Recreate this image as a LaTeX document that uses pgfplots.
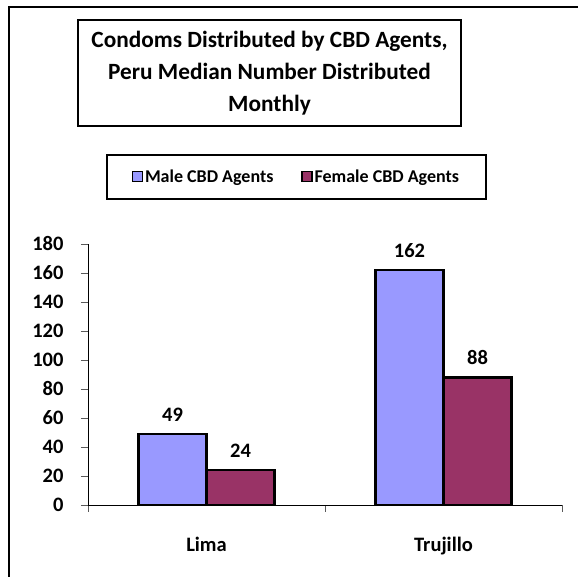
\documentclass[border=0pt]{standalone}
\usepackage{pgfplots}
\pgfplotsset{compat=1.18}
\usepackage{fontspec}
\setmainfont{Carlito}
\definecolor{maleC}{HTML}{9999FF}
\definecolor{femaleC}{HTML}{993366}
\begin{document}
\begin{tikzpicture}[x=1pt,y=1pt]
\useasboundingbox (0,0) rectangle (578,577);
\draw[line width=2pt] (9,-5) -- (9,570) -- (585,570);
\node[draw, line width=1.6pt, minimum width=383pt, minimum height=106pt, align=center,
      font=\fontsize{23.3}{32}\selectfont\bfseries, inner sep=0pt] at (269.5,504)
  {Condoms Distributed by CBD Agents,\\Peru Median Number Distributed\\Monthly};
\begin{axis}[
  at={(88pt,72pt)}, anchor=south west,
  scale only axis, width=474pt, height=261pt,
  xmin=-0.5, xmax=1.5, ymin=0, ymax=180,
  axis lines*=left,
  axis line style={line width=0.8pt},
  ybar=0pt, bar width=68pt,
  ytick={0,20,...,180},
  xtick={-0.5,0.5,1.5}, xticklabels={},
  extra x ticks={0,1}, extra x tick labels={Lima,Trujillo},
  extra x tick style={major tick length=0pt, xticklabel style={yshift=-29pt}},
  tick align=outside, major tick length=7pt,
  tick style={line width=0.8pt, color=gray!70!black},
  /pgf/number format/assume math mode=true,
  ticklabel style={font=\fontsize{20.5}{24}\selectfont\bfseries},
  yticklabel style={xshift=-14pt},
  nodes near coords,
  every node near coord/.append style={font=\fontsize{20.5}{24}\selectfont\bfseries, yshift=8pt},
  legend columns=2,
  legend style={at={(0.038,1.345)}, anchor=north west, draw=black, line width=1.6pt,
    inner xsep=25pt, inner ysep=13pt,
    font=\fontsize{18}{22}\selectfont\bfseries,
    /tikz/every odd column/.append style={xshift=4pt},
    /tikz/every even column/.append style={column sep=26pt}},
  legend image code/.code={\draw[#1, line width=1.2pt] (4pt,-5pt) rectangle (14pt,5pt);},
]
\addplot[fill=maleC, draw=black, line width=2.5pt] coordinates {(0,49) (1,162)};
\addplot[fill=femaleC, draw=black, line width=2.5pt] coordinates {(0,24) (1,88)};
\legend{Male CBD Agents, Female CBD Agents}
\end{axis}
\end{tikzpicture}
\end{document}
